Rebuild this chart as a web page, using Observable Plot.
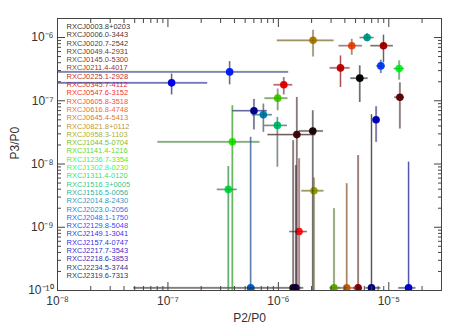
<!DOCTYPE html>
<html><head><meta charset="utf-8">
<script src="https://cdn.jsdelivr.net/npm/d3@7"></script>
<script src="https://cdn.jsdelivr.net/npm/@observablehq/plot@0.6"></script>
<style>body{margin:0;background:#fff;}</style>
</head><body><div id="chart"></div>
<script>
const names = ["RXCJ0003.8+0203","RXCJ0006.0-3443","RXCJ0020.7-2542","RXCJ0049.4-2931","RXCJ0145.0-5300","RXCJ0211.4-4017","RXCJ0225.1-2928","RXCJ0345.7-4112","RXCJ0547.6-3152","RXCJ0605.8-3518","RXCJ0616.8-4748","RXCJ0645.4-5413","RXCJ0821.8+0112","RXCJ0958.3-1103","RXCJ1044.5-0704","RXCJ1141.4-1216","RXCJ1236.7-3354","RXCJ1302.8-0230","RXCJ1311.4-0120","RXCJ1516.3+0005","RXCJ1516.5-0056","RXCJ2014.8-2430","RXCJ2023.0-2056","RXCJ2048.1-1750","RXCJ2129.8-5048","RXCJ2149.1-3041","RXCJ2157.4-0747","RXCJ2217.7-3543","RXCJ2218.6-3853","RXCJ2234.5-3744","RXCJ2319.6-7313"];
const colors = ["#000000","#1c0808","#2c0808","#440808","#600808","#880000","#a80000","#d00000","#f00000","#ff1818","#f04810","#d06000","#b08000","#98a000","#60b000","#40d000","#20f000","#00ff20","#00e040","#00c070","#00a090","#0080b0","#0060d0","#0040ff","#0020ff","#0000f0","#0000e0","#0000c0","#0000a0","#000080","#000050"];
const p2   = [5.46e-6,2.05e-6,1.36e-6,1.47e-6,1.26e-5,5.27e-6,8.95e-6,3.65e-6,1.12e-6,1.54e-6,4.62e-6,4.16e-6,2.06e-6,2.10e-6,3.19e-6,9.86e-7,3.83e-7,1.24e-5,3.52e-7,9.79e-7,6.36e-6,7.31e-7,5.61e-7,8.47e-6,3.62e-7,1.08e-7,1.51e-5,7.67e-6,6.01e-7,6.97e-6,1.44e-6];
const p3   = [2.28e-7,3.33e-8,1.1e-10,2.92e-8,1.14e-7,1.1e-10,7.43e-7,3.31e-7,1.79e-7,8.55e-10,7.43e-7,1.1e-10,9.04e-7,3.78e-9,1.1e-10,1.10e-7,2.24e-8,3.23e-7,3.97e-9,4.08e-8,1.0e-6,6.02e-8,1.1e-10,3.56e-7,2.86e-7,1.92e-7,1.1e-10,5.02e-8,6.96e-8,1.1e-10,1.1e-10];
const p2Lo = [4.53e-6,1.54e-6,4.9e-8,8.05e-7,1.13e-5,4.8e-6,6.87e-6,2.94e-6,9.12e-7,1.27e-6,3.54e-6,3.5e-6,9.79e-7,1.63e-6,2.93e-6,7.56e-7,8.10e-8,1.12e-5,2.80e-7,7.51e-7,5.49e-6,5.81e-7,5.3e-7,7.78e-6,5e-9,5e-9,1.23e-5,7.2e-6,3.85e-7,6.18e-6,1.3e-6];
const p2Hi = [6.49e-6,2.56e-6,1.70e-6,2.18e-6,1.38e-5,5.8e-6,1.10e-5,4.46e-6,1.35e-6,1.83e-6,5.78e-6,4.9e-6,3.19e-6,2.59e-6,3.68e-6,1.22e-6,6.81e-7,1.38e-5,4.25e-7,1.21e-6,7.36e-6,8.83e-7,5.9e-7,9.33e-6,1.24e-6,2.29e-7,1.76e-5,8.1e-6,7.94e-7,8.47e-6,1.6e-6];
const p3Lo = [9.4e-8,1e-11,1e-11,1e-11,3.58e-8,1e-11,4.01e-7,1.62e-7,1.24e-7,1e-11,5.25e-7,1e-11,4.93e-7,1e-11,1e-11,6.96e-8,1e-11,2.12e-7,1e-11,8.91e-9,8.59e-7,3.17e-8,1e-11,2.69e-7,1.79e-7,1.24e-7,1e-11,2.20e-8,3.46e-8,1e-11,1e-11];
const p3Hi = [3.56e-7,6.96e-8,2.34e-8,1.13e-7,1.92e-7,1.36e-8,1.09e-6,5.11e-7,2.33e-7,1.21e-8,9.37e-7,4.88e-9,1.30e-6,6e-9,1.97e-9,1.53e-7,8.34e-8,4.27e-7,9.13e-9,5.46e-8,1.16e-6,8.87e-8,2.64e-8,4.38e-7,4.16e-7,2.64e-7,1.07e-8,8.05e-8,1.05e-7,6.02e-8,9.46e-9];
const xMajor = [1e-8, 1e-7, 1e-6, 1e-5];
const yMajor = [1e-10, 1e-9, 1e-8, 1e-7, 1e-6];
const xTitle = "P2/P0";
const yTitle = "P3/P0";

const rows = names.map((name, i) => ({
  name, color: colors[i], dark: d3.color(colors[i]).darker(1.0).formatHex(),
  p2: p2[i], p3: p3[i], p2lo: p2Lo[i], p2hi: p2Hi[i], p3lo: p3Lo[i], p3hi: p3Hi[i]
}));

const xMinor = [-8,-7,-6,-5].flatMap(e => d3.range(2, 10).map(m => m * Math.pow(10, e))).filter(v => v < 2.99e-5);
const yMinor = [-10,-9,-8,-7,-6].flatMap(e => d3.range(2, 10).map(m => m * Math.pow(10, e))).filter(v => v < 1.99e-6);

const supMap = {"-":"⁻","0":"⁰","1":"¹","2":"²","3":"³","4":"⁴","5":"⁵","6":"⁶","7":"⁷","8":"⁸","9":"⁹"};
const fmtPow = d => "10" + String(Math.round(Math.log10(d))).split("").map(c => supMap[c]).join("");
const blank = () => "";

const legend = names.map((n, i) => Plot.text([n], {
  frameAnchor: "top-left", dx: 9, dy: 8 + i * 8.3, text: d => d,
  fill: colors[i], fillOpacity: 0.85, textAnchor: "start", lineAnchor: "middle", fontSize: 7.5
}));

const chart = Plot.plot({
  width: 458, height: 327,
  marginLeft: 57, marginRight: 17, marginTop: 18, marginBottom: 37,
  style: {fontFamily: "'Liberation Sans', Arial, sans-serif", fontSize: "11px", color: "#333", background: "#fff"},
  x: {type: "log", domain: [1e-8, 3e-5]},
  y: {type: "log", domain: [1e-10, 2e-6]},
  color: {type: "identity"},
  marks: [
    ...legend,
    Plot.ruleY(rows, {y: "p3", x1: "p2lo", x2: "p2hi", stroke: "#888", strokeWidth: 2.2, strokeOpacity: 0.5, clip: true}),
    Plot.ruleX(rows, {x: "p2", y1: "p3lo", y2: "p3hi", stroke: "#888", strokeWidth: 2.2, strokeOpacity: 0.5, clip: true}),
    Plot.dot(rows, {x: "p2", y: "p3", fill: "color", r: 3.8, clip: true}),
    Plot.ruleY(rows, {y: "p3", x1: "p2lo", x2: "p2hi", stroke: "dark", strokeWidth: 1, strokeOpacity: 0.6, clip: true}),
    Plot.ruleX(rows, {x: "p2", y1: "p3lo", y2: "p3hi", stroke: "dark", strokeWidth: 1, strokeOpacity: 0.6, clip: true}),
    Plot.frame({stroke: "#444"}),
    Plot.axisX({anchor: "bottom", ticks: xMajor, tickSize: -8, tickPadding: 14, tickFormat: fmtPow, fontSize: 12, label: null, stroke: "#444"}),
    Plot.axisX({anchor: "bottom", ticks: xMinor, tickSize: -4, tickFormat: blank, label: null, stroke: "#444"}),
    Plot.axisX({anchor: "top", ticks: xMajor, tickSize: -8, tickFormat: blank, label: null, stroke: "#444"}),
    Plot.axisX({anchor: "top", ticks: xMinor, tickSize: -4, tickFormat: blank, label: null, stroke: "#444"}),
    Plot.axisY({anchor: "left", ticks: yMajor, tickSize: -8, tickPadding: 12, tickFormat: fmtPow, fontSize: 12, label: null, stroke: "#444"}),
    Plot.axisY({anchor: "left", ticks: yMinor, tickSize: -4, tickFormat: blank, label: null, stroke: "#444"}),
    Plot.axisY({anchor: "right", ticks: yMajor, tickSize: -8, tickFormat: blank, label: null, stroke: "#444"}),
    Plot.axisY({anchor: "right", ticks: yMinor, tickSize: -4, tickFormat: blank, label: null, stroke: "#444"}),
    Plot.text([xTitle], {frameAnchor: "bottom", dy: 28, text: d => d, lineAnchor: "middle", fontSize: 12, fill: "#333"}),
    Plot.text([yTitle], {frameAnchor: "left", dx: -42, dy: 5, rotate: -90, text: d => d, lineAnchor: "middle", fontSize: 12, fill: "#333"})
  ]
});
document.getElementById("chart").append(chart);
</script>
</body></html>
